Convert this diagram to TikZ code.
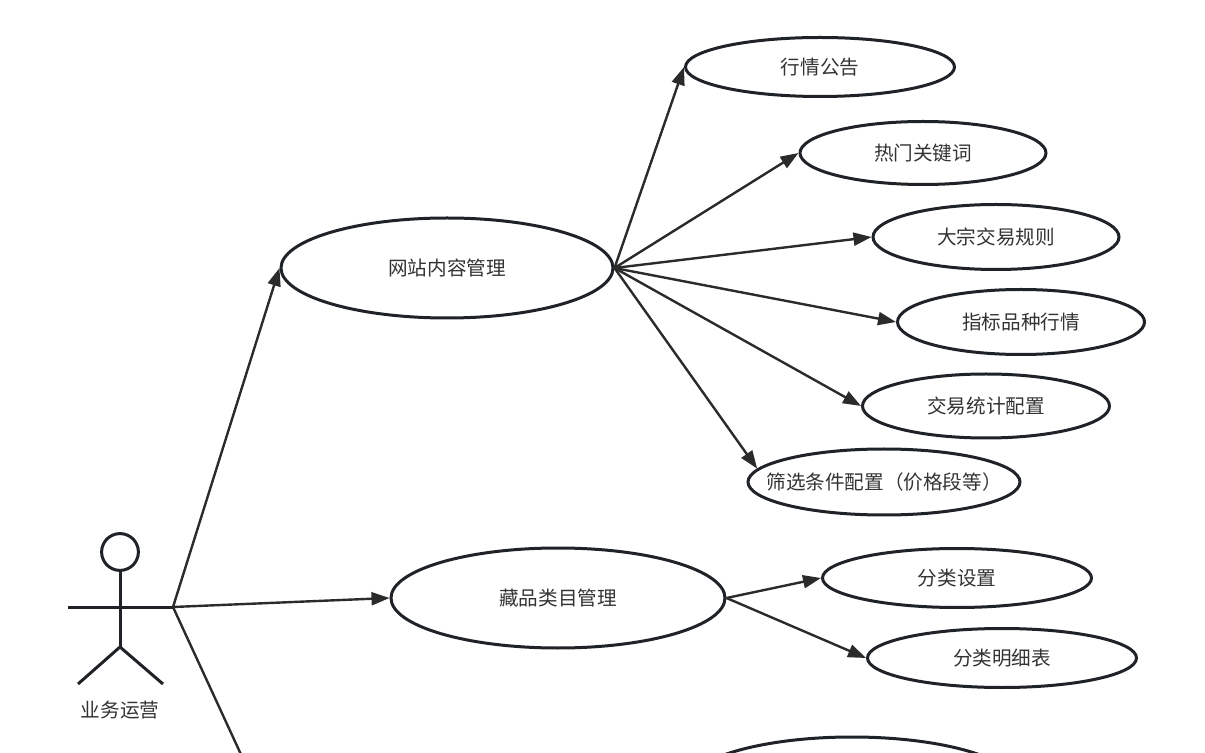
\documentclass[tikz,border=0pt]{standalone}
\usepackage{fontspec}
\setmainfont{Noto Sans CJK SC}
\usetikzlibrary{shapes.geometric,arrows.meta}
\definecolor{inkline}{HTML}{2B2B2B}
\definecolor{inkborder}{HTML}{1F2328}
\definecolor{inktext}{HTML}{333333}
\tikzset{
  usecase/.style={ellipse, draw=inkborder, line width=1.5pt, inner sep=0pt, text=inktext, font=\fontsize{9.8}{12}\selectfont},
  link/.style={draw=inkline, line width=1.2pt, -{Triangle[length=9pt,width=6.5pt]}},
  stick/.style={draw=inkborder, line width=1.5pt},
}

\begin{document}
\begin{tikzpicture}[x=0.5pt,y=-0.5pt]
    \useasboundingbox (0,0) rectangle (1205,753);
    \clip (0,0) rectangle (1205,753);
    % actor
    \draw[stick] (120,552) circle (9.2pt);
    \draw[stick] (120,570) -- (120,647);
    \draw[stick] (68,607) -- (173,607);
    \draw[stick] (78,684) -- (120,647) -- (163,684);
    \coordinate (hand) at (173,607);
    \coordinate (down) at (262,800);
    \node[text=inktext, font=\fontsize{9.8}{12}\selectfont] (actor) at (120,710) {业务运营};
    % use cases
    \node[usecase, minimum width=166pt, minimum height=50pt] (site) at (447,268) {网站内容管理};
    \node[usecase, minimum width=167pt, minimum height=50pt] (cat) at (558,598) {藏品类目管理};
    \node[usecase, minimum width=167pt, minimum height=50pt] (more) at (852,787) {};
    \node[usecase, minimum width=134.5pt, minimum height=29.5pt] (notice) at (820,67) {行情公告};
    \node[usecase, minimum width=123pt, minimum height=31.5pt] (keyword) at (923,153) {热门关键词};
    \node[usecase, minimum width=123pt, minimum height=32.5pt] (bulk) at (996,237) {大宗交易规则};
    \node[usecase, minimum width=123.5pt, minimum height=32.5pt] (index) at (1021,322) {指标品种行情};
    \node[usecase, minimum width=123.5pt, minimum height=32pt] (stats) at (986,406) {交易统计配置};
    \node[usecase, inner xsep=-18pt, minimum width=136pt, minimum height=33pt] (filter) at (884,482) {筛选条件配置（价格段等）};
    \node[usecase, minimum width=134.5pt, minimum height=29.5pt] (catset) at (957,578) {分类设置};
    \node[usecase, minimum width=134.5pt, minimum height=29.5pt] (catlist) at (1002,658) {分类明细表};
    % links
    \draw[link] (hand) -- (site.west);
    \draw[link] (hand) -- (cat.west);
    \draw[draw=inkline, line width=1.2pt] (hand) -- (down);
    \foreach \t in {notice,keyword,bulk,index,stats}
      \draw[link] (site.east) -- (\t.west);
    \draw[link] (site.east) -- (filter.174);
    \draw[link] (cat.east) -- (catset.west);
    \draw[link] (cat.east) -- (catlist.west);
\end{tikzpicture}
\end{document}
